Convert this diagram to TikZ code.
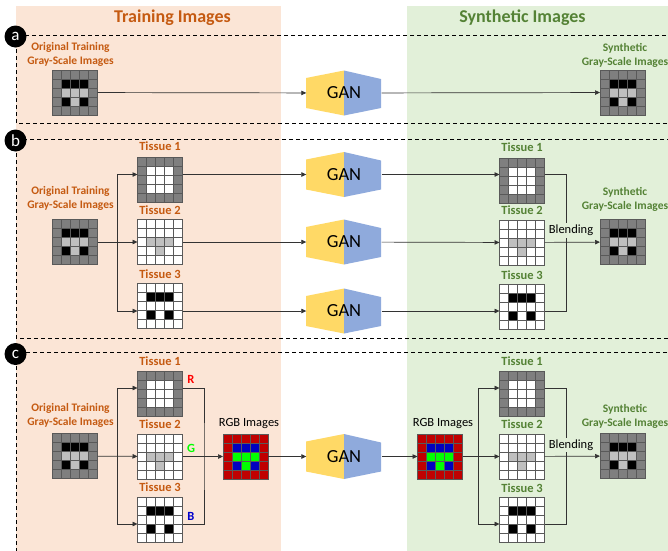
\documentclass[tikz,border=0pt]{standalone}
\usepackage{fontspec}
\setmainfont{Carlito}
\usetikzlibrary{arrows.meta,positioning,calc}
\definecolor{trainbg}{HTML}{FBE5D6}
\definecolor{synbg}{HTML}{E2F0D9}
\definecolor{trainorange}{HTML}{C55A11}
\definecolor{syngreen}{HTML}{548235}
\definecolor{ganyellow}{HTML}{FFD966}
\definecolor{ganblue}{HTML}{8FAADC}
\definecolor{pxG}{HTML}{7F7F7F}
\definecolor{pxK}{HTML}{000000}
\definecolor{pxL}{HTML}{BFBFBF}
\definecolor{pxW}{HTML}{FFFFFF}
\definecolor{pxR}{HTML}{C00000}
\definecolor{pxB}{HTML}{0000C0}
\definecolor{pxN}{HTML}{00FF00}

% 5x5 pixel patterns, one group per row
\def\patOrig{{G,G,G,G,G},{G,K,K,K,G},{G,L,L,L,G},{G,K,L,K,G},{G,G,G,G,G}}
\def\patOne{{G,G,G,G,G},{G,W,W,W,G},{G,W,W,W,G},{G,W,W,W,G},{G,G,G,G,G}}
\def\patTwo{{W,W,W,W,W},{W,W,W,W,W},{W,L,L,L,W},{W,W,L,W,W},{W,W,W,W,W}}
\def\patThree{{W,W,W,W,W},{W,K,K,K,W},{W,W,W,W,W},{W,K,W,K,W},{W,W,W,W,W}}
\def\patRGB{{R,R,R,R,R},{R,B,B,B,R},{R,N,N,N,R},{R,B,N,B,R},{R,R,R,R,R}}

\newcommand{\pixgrid}[3]{%
  \node[pixbox] (#1) at (#2) {};
  \foreach \rw [count=\ry] in #3 {
    \foreach \cl [count=\cx] in \rw
      \draw[pixline, fill=px\cl, shift={(#1.north west)}]
        (\cx*9-9, \ry*9-9) rectangle ++(9,9);
  }
  \draw[pixline] (#1.north west) rectangle (#1.south east);
}
\newcommand{\gan}[2]{%
  \begin{scope}[shift={(#2)}]
    \fill[ganyellow] (-38,-15) -- (0,-22.5) -- (0,22.5) -- (-38,15) -- cycle;
    \fill[ganblue] (0,-22.5) -- (37,-14) -- (37,15) -- (0,22.5) -- cycle;
  \end{scope}
  \node[ganbox] (#1) at (#2) {GAN};
}

\tikzset{
  pixbox/.style={minimum size=45pt,inner sep=0pt,outer sep=0pt},
  pixline/.style={draw=black!65,line width=0.6pt},
  ganbox/.style={minimum width=75pt,minimum height=30pt,inner sep=0pt,
                 font=\fontsize{18.5}{20}\selectfont},
  flow/.style={draw=black!80,line width=0.7pt,-{Triangle[length=5pt,width=4.5pt]}},
  joinline/.style={draw=black!80,line width=0.7pt},
  panelbox/.style={draw=black,line width=0.8pt,dash pattern=on 4pt off 3pt},
  paneltag/.style={circle,fill=black,text=white,minimum size=22pt,inner sep=0pt,
                   font=\fontsize{17}{17}\selectfont},
  title/.style={font=\bfseries\fontsize{18}{20}\selectfont,anchor=base},
  trainlabel/.style={text=trainorange,align=center,inner sep=1pt,
                     font=\bfseries\fontsize{11.5}{14}\selectfont},
  synlabel/.style={trainlabel,text=syngreen},
  tissuetrain/.style={text=trainorange,inner sep=1pt,font=\bfseries\fontsize{12.5}{14}\selectfont},
  tissuesyn/.style={tissuetrain,text=syngreen},
  plainlabel/.style={inner sep=1pt,font=\fontsize{12.5}{14}\selectfont},
  blendlabel/.style={plainlabel,fill=synbg,inner sep=2pt},
  channel/.style={inner sep=1pt,font=\bfseries\fontsize{12.5}{14}\selectfont}
}

\begin{document}
\begin{tikzpicture}[x=1pt,y=-1pt]
  \useasboundingbox (0,0) rectangle (668,550);
  \clip (0,0) rectangle (668,550);
  \fill[trainbg] (16,6) rectangle (281,560);
  \fill[synbg] (407,6) rectangle (680,560);
  \node[title,text=trainorange] (train-title) at (172.5,22.5) {Training Images};
  \node[title,text=syngreen] (syn-title) at (522.5,22.5) {Synthetic Images};

  \draw[panelbox] (16,35) rectangle (680,123);
  \draw[panelbox] (16,139) rectangle (680,338);
  \draw[panelbox] (16,352) rectangle (680,570);
  \node[paneltag] (tag-a) at (15.5,36.5) {a};
  \node[paneltag] (tag-b) at (15.5,140.5) {b};
  \node[paneltag] (tag-c) at (15.5,354) {c};

  % (a) one GAN on the gray-scale images
  \node[trainlabel] (a-origtxt) at (70.5,54) {Original Training\\Gray-Scale Images};
  \pixgrid{a-orig}{75,92.5}{\patOrig}
  \gan{a-gan}{344,93}
  \node[synlabel] (a-syntxt) at (625,55) {Synthetic\\Gray-Scale Images};
  \pixgrid{a-syn}{622.5,92.5}{\patOrig}
  \draw[flow] (a-orig) -- (a-gan);
  \draw[flow] (a-gan) -- (a-syn);

  % (b) one GAN per tissue
  \node[trainlabel] (b-origtxt) at (70.5,198) {Original Training\\Gray-Scale Images};
  \pixgrid{b-orig}{75,242}{\patOrig}
  \node[tissuetrain] (b-t1txt) at (160,146) {Tissue 1};
  \node[tissuetrain] (b-t2txt) at (160,210) {Tissue 2};
  \node[tissuetrain] (b-t3txt) at (160,274) {Tissue 3};
  \pixgrid{b-t1}{160,179.5}{\patOne}
  \pixgrid{b-t2}{160,242}{\patTwo}
  \pixgrid{b-t3}{160,306}{\patThree}
  \gan{b-gan1}{344,174.5}
  \gan{b-gan2}{344,242}
  \gan{b-gan3}{344,311}
  \node[tissuesyn] (b-s1txt) at (522,147) {Tissue 1};
  \node[tissuesyn] (b-s2txt) at (522,210) {Tissue 2};
  \node[tissuesyn] (b-s3txt) at (522,275) {Tissue 3};
  \pixgrid{b-s1}{522,180.5}{\patOne}
  \pixgrid{b-s2}{522,242.5}{\patTwo}
  \pixgrid{b-s3}{522,307}{\patThree}
  \node[synlabel] (b-syntxt) at (625,199) {Synthetic\\Gray-Scale Images};
  \pixgrid{b-syn}{622.5,242}{\patOrig}
  \coordinate (b-split) at (117,242);
  \coordinate (b-mix) at (566,242);
  \draw[flow] (b-orig) -- (b-t2);
  \draw[flow] (b-split) |- (b-t1.west |- b-gan1);
  \draw[flow] (b-split) |- (b-t3.west |- b-gan3);
  \draw[flow] (b-t1.east |- b-gan1) -- (b-gan1);
  \draw[flow] (b-t2) -- (b-gan2);
  \draw[flow] (b-t3.east |- b-gan3) -- (b-gan3);
  \draw[flow] (b-gan1) -- (b-s1.west |- b-gan1);
  \draw[flow] (b-gan2) -- (b-s2);
  \draw[flow] (b-gan3) -- (b-s3.west |- b-gan3);
  \draw[joinline] (b-s1.east |- b-gan1) -| (b-mix) |- (b-s3.east |- b-gan3);
  \draw[flow] (b-s2) -- (b-syn);
  \node[blendlabel] (b-blend) at (571,230.5) {Blending};

  % (c) tissues stacked as RGB channels for a single GAN
  \node[trainlabel] (c-origtxt) at (70.5,415) {Original Training\\Gray-Scale Images};
  \pixgrid{c-orig}{75,456}{\patOrig}
  \node[tissuetrain] (c-t1txt) at (160,361) {Tissue 1};
  \node[tissuetrain] (c-t2txt) at (160,424) {Tissue 2};
  \node[tissuetrain] (c-t3txt) at (160,487) {Tissue 3};
  \pixgrid{c-t1}{160,394}{\patOne}
  \pixgrid{c-t2}{160,456.5}{\patTwo}
  \pixgrid{c-t3}{160,520}{\patThree}
  \node[channel,text=red] (c-chr) at (191,379) {R};
  \node[channel,text=green] (c-chg) at (191,448) {G};
  \node[channel,text=blue!80!black] (c-chb) at (191,516) {B};
  \node[plainlabel] (c-rgb1txt) at (249,424) {RGB Images};
  \pixgrid{c-rgb1}{245.5,456.5}{\patRGB}
  \gan{c-gan}{344,456.5}
  \node[plainlabel] (c-rgb2txt) at (443,424) {RGB Images};
  \pixgrid{c-rgb2}{440,456.5}{\patRGB}
  \node[tissuesyn] (c-s1txt) at (522,361) {Tissue 1};
  \node[tissuesyn] (c-s2txt) at (522,424) {Tissue 2};
  \node[tissuesyn] (c-s3txt) at (522,488) {Tissue 3};
  \pixgrid{c-s1}{522,394}{\patOne}
  \pixgrid{c-s2}{522,456.5}{\patTwo}
  \pixgrid{c-s3}{522,520}{\patThree}
  \node[synlabel] (c-syntxt) at (625,416) {Synthetic\\Gray-Scale Images};
  \pixgrid{c-syn}{622.5,456}{\patOrig}
  \coordinate (c-split) at (117,456.5);
  \coordinate (c-merge) at (204,456.5);
  \coordinate (c-split2) at (478,456.5);
  \coordinate (c-mix) at (566,456.5);
  \draw[flow] (c-orig) -- (c-t2);
  \draw[flow] (c-split) |- ([yshift=6pt]c-t1.west);
  \draw[flow] (c-split) |- ([yshift=-4pt]c-t3.west);
  \draw[joinline] ([yshift=6pt]c-t1.east) -| (c-merge) |- ([yshift=-4pt]c-t3.east);
  \draw[flow] (c-t2) -- (c-rgb1);
  \draw[flow] (c-rgb1) -- (c-gan);
  \draw[flow] (c-gan) -- (c-rgb2);
  \draw[flow] (c-rgb2) -- (c-s2);
  \draw[flow] (c-split2) |- ([yshift=6pt]c-s1.west);
  \draw[flow] (c-split2) |- ([yshift=-4pt]c-s3.west);
  \draw[joinline] ([yshift=6pt]c-s1.east) -| (c-mix) |- ([yshift=-4pt]c-s3.east);
  \draw[flow] (c-s2) -- (c-syn);
  \node[blendlabel] (c-blend) at (571,445) {Blending};
\end{tikzpicture}
\end{document}
